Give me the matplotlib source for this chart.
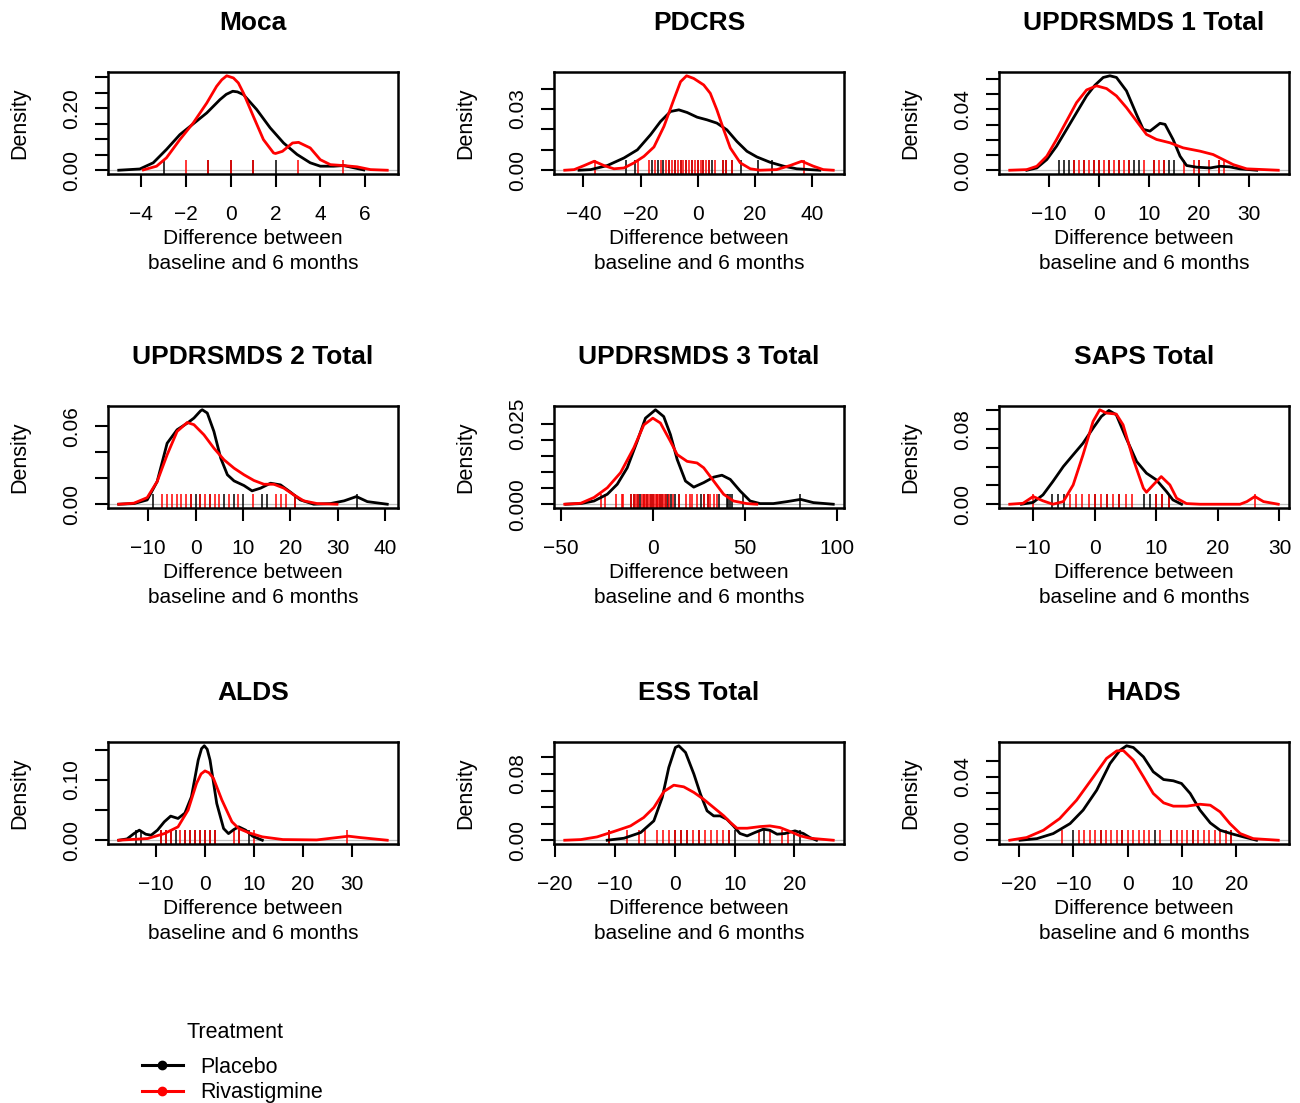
import numpy as np
import matplotlib
matplotlib.use('Agg')
import matplotlib.pyplot as plt
from matplotlib.lines import Line2D
from matplotlib.ticker import FixedLocator, FuncFormatter

plt.rcParams['font.family'] = ['Liberation Sans', 'DejaVu Sans']

# ---- data (density curves + rug values) ----
titles = ["Moca", "PDCRS", "UPDRSMDS 1 Total", "UPDRSMDS 2 Total", "UPDRSMDS 3 Total",
          "SAPS Total", "ALDS", "ESS Total", "HADS"]
groups = ["Placebo", "Rivastigmine"]

moca_pl_x = [-5.0, -4.06, -3.46, -2.87, -2.27, -1.67, -1.07, -0.48, -0.2, 0.09, 0.3, 0.57, 1.16, 1.76, 2.36, 2.96, 3.55, 4.0, 4.6, 5.04, 5.49, 5.94]
moca_pl_y = [0.0, 0.004, 0.024, 0.067, 0.115, 0.15, 0.185, 0.228, 0.245, 0.255, 0.253, 0.244, 0.196, 0.137, 0.088, 0.051, 0.024, 0.013, 0.013, 0.015, 0.008, 0.001]
moca_rv_x = [-3.9, -3.31, -2.87, -2.27, -1.67, -1.07, -0.63, -0.4, -0.18, 0.12, 0.34, 0.57, 1.01, 1.46, 1.91, 2.0, 2.31, 2.76, 3.03, 3.55, 4.0, 4.45, 5.04, 5.64, 6.24, 6.99]
moca_rv_y = [0.001, 0.013, 0.04, 0.099, 0.153, 0.217, 0.271, 0.292, 0.305, 0.298, 0.282, 0.249, 0.174, 0.099, 0.056, 0.054, 0.061, 0.088, 0.090, 0.072, 0.034, 0.018, 0.015, 0.011, 0.002, 0.0]
moca_pl_rug = [-3, -1, 0, 1, 2]
moca_rv_rug = [-2, -1, 0, 1, 3, 5]

pdcrs_pl_x = [-41.5, -37.4, -31.6, -25.8, -21.1, -16.5, -13.0, -9.5, -6.6, -3.7, -0.2, 3.25, 6.7, 10.2, 13.7, 17.2, 20.7, 25.3, 30.0, 34.6, 42.7]
pdcrs_pl_y = [0.0, 0.0003, 0.0023, 0.006, 0.010, 0.0174, 0.0239, 0.0288, 0.0296, 0.0283, 0.026, 0.0247, 0.0231, 0.0198, 0.0141, 0.0093, 0.0065, 0.0039, 0.002, 0.0007, 0.0]
pdcrs_rv_x = [-46.5, -43.2, -39.7, -36.2, -32.8, -29.3, -25.8, -22.3, -18.8, -15.3, -11.8, -8.4, -6.0, -3.9, -1.4, 2.1, 4.4, 6.7, 9.1, 11.4, 14.9, 18.4, 21.8, 27.6, 32.3, 36.4, 40.4, 43.9, 47.4]
pdcrs_rv_y = [0.0, 0.0003, 0.0023, 0.0044, 0.0023, 0.0007, 0.0011, 0.0036, 0.0068, 0.0114, 0.0215, 0.0345, 0.0434, 0.0463, 0.045, 0.0418, 0.0377, 0.0296, 0.0198, 0.0109, 0.0036, 0.0007, 0.0, 0.0003, 0.0023, 0.0044, 0.002, 0.0003, 0.0]
pdcrs_pl_rug = [-25, -22, -16, -14, -12, -10, -8, -6, -4, -2, 0, 2, 4, 5, 9, 10, 12, 15, 21, 26]
pdcrs_rv_rug = [-36, -21, -17, -15, -13, -11, -10, -9, -8, -7, -6, -5, -4, -3, -2, -1, 0, 1, 2, 3, 4, 6, 9, 10, 12, 37]

updrs1_pl_x = [-14.4, -12.4, -10.4, -8.45, -6.45, -4.46, -2.46, -0.8, 0.86, 2.2, 3.5, 5.5, 7.5, 8.85, 10.2, 12.2, 13.2, 14.8, 16.2, 17.5, 19.5, 22.2, 24.2, 26.1, 28.1, 31.5]
updrs1_pl_y = [0.0, 0.0015, 0.007, 0.0158, 0.0268, 0.0378, 0.0488, 0.0558, 0.0609, 0.062, 0.0609, 0.0521, 0.0367, 0.0268, 0.0257, 0.0308, 0.0301, 0.0202, 0.0092, 0.0031, 0.002, 0.0015, 0.0026, 0.0022, 0.0009, 0.0]
updrs1_rv_x = [-17.8, -14.4, -12.4, -10.4, -8.45, -6.45, -4.46, -2.46, -0.47, 1.53, 3.5, 5.5, 7.5, 9.5, 11.5, 14.2, 16.8, 20.2, 22.8, 24.8, 26.8, 29.5, 35.8]
updrs1_rv_y = [0.0, 0.0004, 0.0026, 0.0092, 0.0202, 0.0323, 0.0444, 0.0527, 0.0554, 0.0536, 0.0488, 0.0411, 0.0323, 0.0235, 0.0202, 0.018, 0.0147, 0.0125, 0.0103, 0.007, 0.0037, 0.0009, 0.0]
updrs1_pl_rug = [-8, -7, -6, -5, -3, -1, 0, 2, 4, 6, 7, 8, 11, 13, 14, 15, 20, 24]
updrs1_rv_rug = [-5, -4, -3, -2, -1, 0, 1, 2, 3, 4, 5, 6, 9, 11, 12, 13, 17, 19, 20, 22, 24, 25]

updrs2_pl_x = [-16.2, -13.0, -10.2, -8.1, -6.0, -3.9, -1.76, -0.35, 1.05, 1.4, 2.46, 3.86, 5.3, 6.7, 8.1, 10.2, 11.9, 13.7, 15.8, 17.9, 20.0, 22.1, 24.9, 28.4, 31.3, 33.9, 36.2, 40.4]
updrs2_pl_y = [0.0, 0.0005, 0.0033, 0.0175, 0.047, 0.0574, 0.0625, 0.0664, 0.072, 0.0728, 0.0703, 0.0561, 0.0355, 0.0227, 0.018, 0.0144, 0.0103, 0.0124, 0.0162, 0.0149, 0.0093, 0.0033, 0.0, 0.0005, 0.0026, 0.0059, 0.002, 0.0]
updrs2_rv_x = [-16.2, -13.0, -10.2, -8.1, -6.0, -3.9, -1.76, -0.35, 1.76, 3.86, 6.0, 8.1, 10.2, 12.3, 14.4, 16.5, 18.6, 20.7, 22.8, 25.6, 29.8]
updrs2_rv_y = [0.0, 0.0008, 0.0051, 0.0175, 0.0381, 0.0561, 0.063, 0.0613, 0.0535, 0.0432, 0.0342, 0.0278, 0.0227, 0.0183, 0.0154, 0.0154, 0.0124, 0.0072, 0.0026, 0.0005, 0.0]
updrs2_pl_rug = [-9, -1, 0, 1, 3, 6, 8, 10, 14, 15, 21, 34]
updrs2_rv_rug = [-7, -6, -5, -4, -3, -2, -1, 1, 2, 3, 4, 5, 7, 9, 12, 17, 18, 19, 21]

updrs3_pl_x = [-47.2, -39.1, -31.9, -24.7, -19.3, -13.9, -8.5, -4.0, 1.44, 5.9, 9.55, 13.2, 17.7, 22.2, 27.6, 33.0, 37.5, 42.0, 47.4, 52.8, 58.2, 65.4, 72.7, 80.2, 87.1, 97.9]
updrs3_pl_y = [0.0, 0.0002, 0.001, 0.0031, 0.0062, 0.0113, 0.0195, 0.0267, 0.0293, 0.0272, 0.0216, 0.0139, 0.0072, 0.0053, 0.0067, 0.0084, 0.009, 0.0077, 0.0041, 0.001, 0.0002, 0.0002, 0.0008, 0.0015, 0.0005, 0.0]
updrs3_rv_x = [-47.8, -39.1, -31.9, -24.7, -17.5, -10.3, -4.9, 0.0, 4.1, 9.55, 13.2, 18.6, 24.0, 27.6, 33.0, 38.4, 43.8, 51.0, 56.4]
updrs3_rv_y = [0.0, 0.0003, 0.0021, 0.0051, 0.0098, 0.0175, 0.0246, 0.0267, 0.0252, 0.0195, 0.0154, 0.0133, 0.0128, 0.0113, 0.0072, 0.0031, 0.001, 0.0002, 0.0]
updrs3_pl_rug = [-12, -10, -8, -7, -5, -3, -1, 0, 2, 4, 5, 7, 8, 10, 12, 14, 26, 28, 30, 36, 40, 41, 42, 43, 49, 80]
updrs3_rv_rug = [-28, -26, -20, -17, -16, -12, -10, -9, -8, -6, -5, -4, -3, -2, -1, 0, 1, 2, 3, 4, 5, 6, 7, 9, 11, 14, 18, 20, 21, 24, 28, 30, 31, 33, 35]

saps_pl_x = [-11.9, -10.0, -8.4, -6.8, -5.1, -3.5, -1.9, -0.27, 1.08, 2.3, 3.5, 5.1, 6.8, 8.4, 10.0, 11.65, 12.7, 14.1]
saps_pl_y = [0.0, 0.002, 0.01, 0.0242, 0.0402, 0.0527, 0.0651, 0.0811, 0.0936, 0.1, 0.0954, 0.0705, 0.0456, 0.0331, 0.026, 0.0135, 0.0046, 0.0]
saps_rv_x = [-13.8, -11.65, -10.0, -8.4, -6.8, -5.1, -3.5, -1.9, -0.27, 0.8, 1.9, 3.5, 4.6, 6.2, 7.9, 8.4, 9.5, 10.8, 12.2, 13.3, 14.9, 17.1, 23.6, 24.7, 26.0, 27.4, 29.8]
saps_rv_y = [0.0, 0.001, 0.0082, 0.0036, 0.0, 0.0028, 0.0206, 0.0527, 0.0883, 0.1007, 0.0972, 0.0961, 0.0847, 0.0491, 0.0171, 0.0128, 0.0206, 0.0295, 0.0206, 0.0064, 0.0007, 0.0, 0.0, 0.0028, 0.0082, 0.0028, 0.0]
saps_pl_rug = [-7, -6, -5, 0, 2, 4, 8, 9, 10, 11, 12]
saps_rv_rug = [-10, -4, -3, -2, -1, 0, 1, 2, 3, 4, 5, 6, 10, 11, 12, 26]

alds_pl_x = [-17.6, -15.9, -14.5, -13.4, -12.1, -11.0, -9.7, -8.3, -7.0, -5.5, -4.1, -2.76, -1.38, -0.7, -0.14, 0.45, 1.03, 2.4, 3.8, 4.8, 5.9, 6.9, 8.3, 9.7, 11.7]
alds_pl_y = [0.0, 0.0022, 0.011, 0.0167, 0.01, 0.0083, 0.0167, 0.0306, 0.04, 0.0361, 0.045, 0.0722, 0.133, 0.152, 0.1567, 0.151, 0.133, 0.0611, 0.0194, 0.011, 0.0178, 0.0222, 0.0167, 0.0067, 0.0]
alds_rv_x = [-17.6, -11.7, -8.3, -5.5, -3.45, -1.72, -0.8, 0.0, 0.8, 1.72, 3.45, 5.5, 6.9, 9.0, 11.7, 15.9, 22.8, 26.9, 29.3, 31.7, 37.2]
alds_rv_y = [0.0, 0.0028, 0.011, 0.0222, 0.05, 0.0944, 0.110, 0.115, 0.112, 0.1028, 0.0667, 0.0306, 0.0194, 0.0122, 0.0056, 0.0011, 0.0005, 0.0044, 0.0067, 0.0044, 0.0]
alds_pl_rug = [-14, -13, -9, -8, -7, -6, -4, -3, -2, -1, 0, 1, 2, 7, 9]
alds_rv_rug = [-9, -8, -7, -5, -4, -3, -2, -1, 0, 1, 2, 6, 7, 10, 29]

ess_pl_x = [-11.3, -8.5, -5.7, -3.5, -2.1, -1.0, 0.1, 0.67, 1.8, 3.2, 4.3, 5.4, 6.5, 7.6, 8.7, 9.8, 10.9, 12.1, 13.4, 14.8, 15.9, 17.1, 18.4, 20.1, 21.5, 22.6, 23.7]
ess_pl_y = [0.0, 0.0024, 0.0093, 0.0234, 0.0516, 0.0879, 0.1121, 0.1141, 0.106, 0.0798, 0.0556, 0.0355, 0.0294, 0.0294, 0.0254, 0.0173, 0.0081, 0.0052, 0.0093, 0.0133, 0.0121, 0.0073, 0.0081, 0.0113, 0.0081, 0.0032, 0.0]
ess_rv_x = [-18.4, -15.7, -13.0, -10.2, -7.4, -5.2, -3.5, -1.8, -0.17, 1.5, 3.2, 4.8, 6.5, 8.2, 9.3, 10.4, 12.1, 14.3, 15.9, 17.6, 19.3, 21.0, 22.6, 26.5]
ess_rv_y = [0.0, 0.0008, 0.004, 0.0105, 0.0173, 0.0274, 0.0395, 0.0589, 0.0665, 0.0645, 0.0577, 0.0496, 0.0395, 0.0294, 0.0214, 0.0145, 0.0145, 0.0165, 0.0173, 0.0153, 0.0105, 0.0052, 0.0024, 0.0]
ess_pl_rug = [-11, 0, 1, 2, 4, 9, 10, 15, 20, 21]
ess_rv_rug = [-11, -8, -6, -5, -3, -2, -1, 0, 1, 2, 3, 4, 5, 6, 7, 8, 9, 14, 16, 18, 19]

hads_pl_x = [-19.8, -16.7, -13.7, -10.6, -8.2, -5.7, -3.25, -1.4, -0.2, 1.04, 2.9, 4.7, 6.6, 8.4, 9.9, 11.5, 13.3, 15.2, 17.0, 19.4, 21.3, 23.7]
hads_pl_y = [0.0, 0.001, 0.0042, 0.0105, 0.019, 0.0316, 0.0484, 0.0568, 0.0596, 0.0585, 0.0526, 0.0432, 0.0383, 0.0375, 0.0358, 0.0295, 0.019, 0.0109, 0.0063, 0.0038, 0.0021, 0.0]
hads_rv_x = [-21.7, -18.6, -15.5, -12.5, -9.4, -6.3, -3.9, -2.0, -0.8, 1.04, 2.9, 4.7, 6.6, 8.4, 10.9, 13.3, 15.2, 17.0, 18.8, 20.7, 23.1, 27.7]
hads_rv_y = [0.0, 0.0017, 0.0063, 0.0137, 0.0253, 0.04, 0.0516, 0.0564, 0.0566, 0.0505, 0.04, 0.0295, 0.0236, 0.0215, 0.0215, 0.0227, 0.0221, 0.0179, 0.0105, 0.0042, 0.001, 0.0]
hads_pl_rug = [-10, -5, -1, 5, 8, 12, 19]
hads_rv_rug = [-12, -9, -8, -7, -6, -5, -4, -3, -2, -1, 0, 1, 2, 3, 4, 6, 8, 9, 10, 11, 12, 13, 14, 15, 16, 17, 18, 19]

x_ticks = [[-4, -2, 0, 2, 4, 6], [-40, -20, 0, 20, 40], [-10, 0, 10, 20, 30],
           [-10, 0, 10, 20, 30, 40], [-50, 0, 50, 100], [-10, 0, 10, 20, 30],
           [-10, 0, 10, 20, 30], [-20, -10, 0, 10, 20], [-20, -10, 0, 10, 20]]
y_step = [0.05, 0.01, 0.01, 0.02, 0.005, 0.02, 0.05, 0.02, 0.01]
y_labels = [{0: "0.00", 4: "0.20"}, {0: "0.00", 3: "0.03"}, {0: "0.00", 4: "0.04"},
            {0: "0.00", 3: "0.06"}, {0: "0.000", 5: "0.025"}, {0: "0.00", 4: "0.08"},
            {0: "0.00", 2: "0.10"}, {0: "0.00", 4: "0.08"}, {0: "0.00", 4: "0.04"}]

panels = [
    (moca_pl_x, moca_pl_y, moca_rv_x, moca_rv_y, moca_pl_rug, moca_rv_rug),
    (pdcrs_pl_x, pdcrs_pl_y, pdcrs_rv_x, pdcrs_rv_y, pdcrs_pl_rug, pdcrs_rv_rug),
    (updrs1_pl_x, updrs1_pl_y, updrs1_rv_x, updrs1_rv_y, updrs1_pl_rug, updrs1_rv_rug),
    (updrs2_pl_x, updrs2_pl_y, updrs2_rv_x, updrs2_rv_y, updrs2_pl_rug, updrs2_rv_rug),
    (updrs3_pl_x, updrs3_pl_y, updrs3_rv_x, updrs3_rv_y, updrs3_pl_rug, updrs3_rv_rug),
    (saps_pl_x, saps_pl_y, saps_rv_x, saps_rv_y, saps_pl_rug, saps_rv_rug),
    (alds_pl_x, alds_pl_y, alds_rv_x, alds_rv_y, alds_pl_rug, alds_rv_rug),
    (ess_pl_x, ess_pl_y, ess_rv_x, ess_rv_y, ess_pl_rug, ess_rv_rug),
    (hads_pl_x, hads_pl_y, hads_rv_x, hads_rv_y, hads_pl_rug, hads_rv_rug),
]

W, H = 1300, 1103
fig = plt.figure(figsize=(W / 100, H / 100), dpi=100)

col_left = [108, 554, 999]
row_top = [72, 406, 742]
box_w, box_h = 290, 102

for i, (plx, ply, rvx, rvy, plr, rvr) in enumerate(panels):
    r, c = divmod(i, 3)
    ax = fig.add_axes([col_left[c] / W, 1 - (row_top[r] + box_h) / H, box_w / W, box_h / H])

    ax.axhline(0, color="#bebebe", lw=0.9, zorder=1)
    ax.vlines(plr, 0, 0.14, color="black", lw=1.1, transform=ax.get_xaxis_transform(), zorder=2)
    ax.vlines(rvr, 0, 0.14, color="red", lw=1.1, transform=ax.get_xaxis_transform(), zorder=2)
    ax.plot(plx, ply, color="black", lw=2.0, zorder=3, solid_joinstyle="round")
    ax.plot(rvx, rvy, color="red", lw=2.0, zorder=4, solid_joinstyle="round")

    # R style 4% padding around the data range
    xlo = min(min(plx), min(rvx))
    xhi = max(max(plx), max(rvx))
    yhi = max(max(ply), max(rvy))
    ax.set_xlim(xlo - 0.04 * (xhi - xlo), xhi + 0.04 * (xhi - xlo))
    ax.set_ylim(-0.04 * yhi, 1.04 * yhi)

    ax.xaxis.set_major_locator(FixedLocator(x_ticks[i]))
    ax.xaxis.set_major_formatter(FuncFormatter(lambda v, p: f"{v:g}".replace("-", "\u2212")))
    n_y = int(np.floor(yhi / y_step[i] + 1e-6)) + 1
    ax.yaxis.set_major_locator(FixedLocator([k * y_step[i] for k in range(n_y)]))
    labs = y_labels[i]
    ax.yaxis.set_major_formatter(FuncFormatter(lambda v, p, labs=labs: labs.get(p, "")))

    ax.tick_params(axis="both", direction="out", length=9.5, width=1.5, labelsize=15)
    ax.tick_params(axis="x", pad=12.5)
    ax.tick_params(axis="y", pad=9.5)
    for s in ax.spines.values():
        s.set_linewidth(1.8)
    plt.setp(ax.get_yticklabels(), rotation=90, va="center", ha="right")

    ax.set_title(titles[i], fontsize=19, fontweight="bold", pad=30)
    ax.set_xlabel("Difference between\nbaseline and 6 months", fontsize=15, labelpad=4, linespacing=1.36)
    ax.set_ylabel("Density", fontsize=15.5, labelpad=23.5)

handles = [Line2D([], [], color="black", lw=2.2, marker="o", markersize=6),
           Line2D([], [], color="red", lw=2.2, marker="o", markersize=6)]
fig.text(235 / W, 1 - 1033 / H, "Treatment", ha="center", va="center", fontsize=15.5)
fig.legend(handles, groups, loc="upper left",
           bbox_to_anchor=(142 / W, 1 - 1057 / H), frameon=False, fontsize=15.5,
           handlelength=1.9, handletextpad=0.8, labelspacing=0.2,
           borderpad=0, borderaxespad=0)

fig.savefig("out.png", dpi=100)
